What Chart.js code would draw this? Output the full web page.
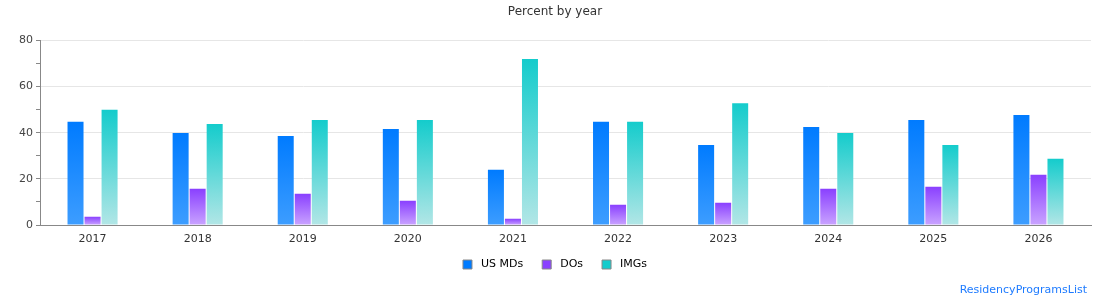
<!DOCTYPE html>
<html>
<head>
<meta charset="utf-8">
<script src="https://cdn.jsdelivr.net/npm/chart.js@4/dist/chart.umd.min.js"></script>
<style>
  html, body { margin: 0; padding: 0; background: #ffffff; }
  #wrap { position: relative; width: 1110px; height: 300px; }
</style>
</head>
<body>
<div id="wrap"><canvas id="chart"></canvas></div>
<script>
// Datos
const years = ['2017', '2018', '2019', '2020', '2021', '2022', '2023', '2024', '2025', '2026'];
const usMDs = [44.7, 39.9, 38.6, 41.6, 23.9, 44.7, 34.7, 42.5, 45.5, 47.7];
const dos   = [3.6, 15.7, 13.5, 10.5, 2.7, 8.8, 9.6, 15.7, 16.6, 21.8];
const imgs  = [49.9, 43.8, 45.5, 45.5, 71.9, 44.7, 52.8, 39.9, 34.7, 28.7];
const yTicks = [0, 20, 40, 60, 80];

Chart.defaults.font.family = "'DejaVu Sans', sans-serif";
Chart.defaults.font.size = 11;
Chart.defaults.color = '#333333';

// gradiente por barra, de arriba (color fuerte) a la base (claro)
function barGradient(top, bottom, solid) {
    return function (context) {
        const chart = context.chart;
        if (!chart.chartArea || context.type !== 'data') return solid;
        const y = chart.scales.y;
        const yTop = y.getPixelForValue(context.parsed.y);
        const yBase = y.getPixelForValue(0);
        if (!isFinite(yTop) || !isFinite(yBase) || yBase - yTop < 1) return solid;
        const g = chart.ctx.createLinearGradient(0, yTop, 0, yBase);
        g.addColorStop(0, top);
        g.addColorStop(1, bottom);
        return g;
    };
}

const solidColors = ['#007bff', '#8a40ff', '#14cccc'];

const credits = {
    id: 'credits',
    afterDraw: function (chart) {
        const ctx = chart.ctx;
        ctx.save();
        ctx.font = "11px 'DejaVu Sans', sans-serif";
        ctx.fillStyle = '#1e7bff';
        ctx.textAlign = 'right';
        ctx.textBaseline = 'middle';
        ctx.fillText('ResidencyProgramsList', 1087, 290);
        ctx.restore();
    }
};

new Chart(document.getElementById('chart'), {
    type: 'bar',
    data: {
        labels: years,
        datasets: [{
            label: 'US MDs',
            data: usMDs,
            backgroundColor: barGradient('#007bff', '#3d9dff', solidColors[0])
        }, {
            label: 'DOs',
            data: dos,
            backgroundColor: barGradient('#8a40ff', '#c9a3ff', solidColors[1])
        }, {
            label: 'IMGs',
            data: imgs,
            backgroundColor: barGradient('#14cccc', '#b2e6e6', solidColors[2])
        }]
    },
    options: {
        responsive: true,
        maintainAspectRatio: false,
        animation: false,
        categoryPercentage: 0.486,
        barPercentage: 0.94,
        layout: {
            padding: { left: 0, right: 0, top: 0, bottom: 20 }
        },
        plugins: {
            title: {
                display: true,
                text: 'Percent by year',
                color: '#333333',
                font: { size: 12, weight: 'normal' },
                padding: { top: 5, bottom: 21 }
            },
            legend: {
                position: 'bottom',
                labels: {
                    boxWidth: 9,
                    boxHeight: 9,
                    padding: 12,
                    color: '#333333',
                    font: { size: 11 },
                    generateLabels: function (chart) {
                        const n = chart.data.datasets.length;
                        return chart.data.datasets.map(function (ds, i) {
                            // espacios extra para separar como en el original
                            return {
                                text: ' ' + ds.label + (i < n - 1 ? '  ' : ''),
                                fillStyle: solidColors[i],
                                strokeStyle: '#888888',
                                lineWidth: 1,
                                hidden: !chart.isDatasetVisible(i),
                                datasetIndex: i
                            };
                        });
                    }
                }
            },
            tooltip: { enabled: false }
        },
        scales: {
            x: {
                grid: { display: false, drawTicks: false },
                border: { color: '#888888', width: 1 },
                ticks: { color: '#333333', padding: 8 },
                afterFit: function (scale) { scale.height = 22; }
            },
            y: {
                min: 0,
                max: 80,
                afterFit: function (scale) { scale.width = 40; },
                border: { color: '#888888', width: 1 },
                grid: {
                    color: function (context) {
                        return yTicks.includes(context.tick.value) ? '#e6e6e6' : 'rgba(0,0,0,0)';
                    },
                    tickColor: '#888888',
                    tickLength: 4
                },
                ticks: {
                    stepSize: 10,
                    padding: 3,
                    color: '#444444',
                    callback: function (value) {
                        return yTicks.includes(value) ? value : '';
                    }
                }
            },
            // eje vacío a la derecha, solo para dejar margen
            yRight: {
                position: 'right',
                min: 0,
                max: 80,
                grid: { display: false, drawTicks: false },
                border: { display: false },
                ticks: { display: false },
                afterFit: function (scale) { scale.width = 19; }
            }
        }
    },
    plugins: [credits]
});
</script>
</body>
</html>
